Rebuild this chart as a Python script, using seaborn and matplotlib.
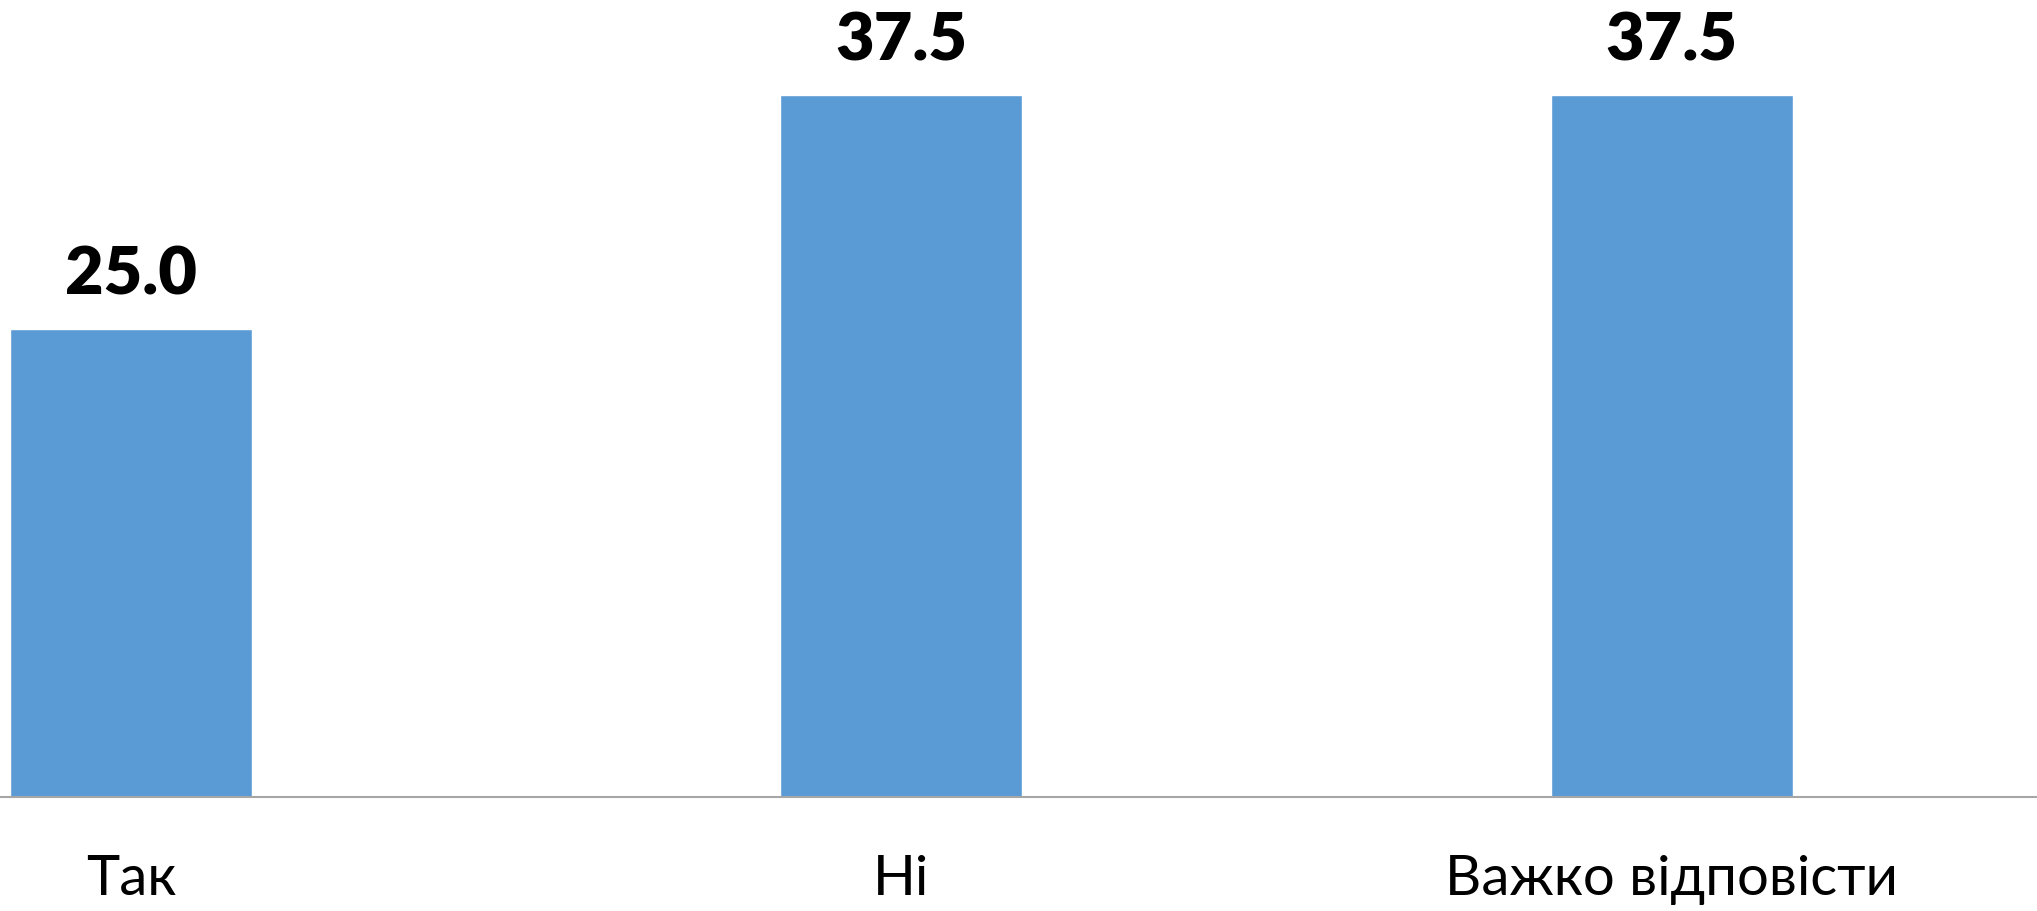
import pandas as pd
import matplotlib.pyplot as plt
import seaborn as sns

# answers and shares (%)
categories = ["Так", "Ні", "Важко відповісти"]
values = [25.0, 37.5, 37.5]

df = pd.DataFrame({"answer": categories, "share": values})

sns.set_style("white")
plt.rcParams['font.family'] = ['Lato', 'DejaVu Sans']

fig = plt.figure(figsize=(20.37, 9.11), dpi=100)
ax = fig.add_axes([0, 0.125, 1, 0.875])

sns.barplot(data=df, x="answer", y="share", color="#5B9BD5", width=0.314,
            saturation=1, ax=ax)

ax.bar_label(ax.containers[0], fmt="%.1f", padding=17, fontsize=48,
             fontweight="heavy", color="black")

ax.set_xlim(-0.170, 2.474)
ax.set_ylim(0, 42.6)
ax.set_xlabel("")
ax.set_ylabel("")
ax.set_yticks([])
ax.tick_params(axis="x", length=0, pad=41, labelsize=40.5, colors="black")

for side in ["top", "left", "right"]:
    ax.spines[side].set_visible(False)
ax.spines["bottom"].set_color("#A6A6A6")
ax.spines["bottom"].set_linewidth(1.5)

plt.savefig("out.png", dpi=100)
